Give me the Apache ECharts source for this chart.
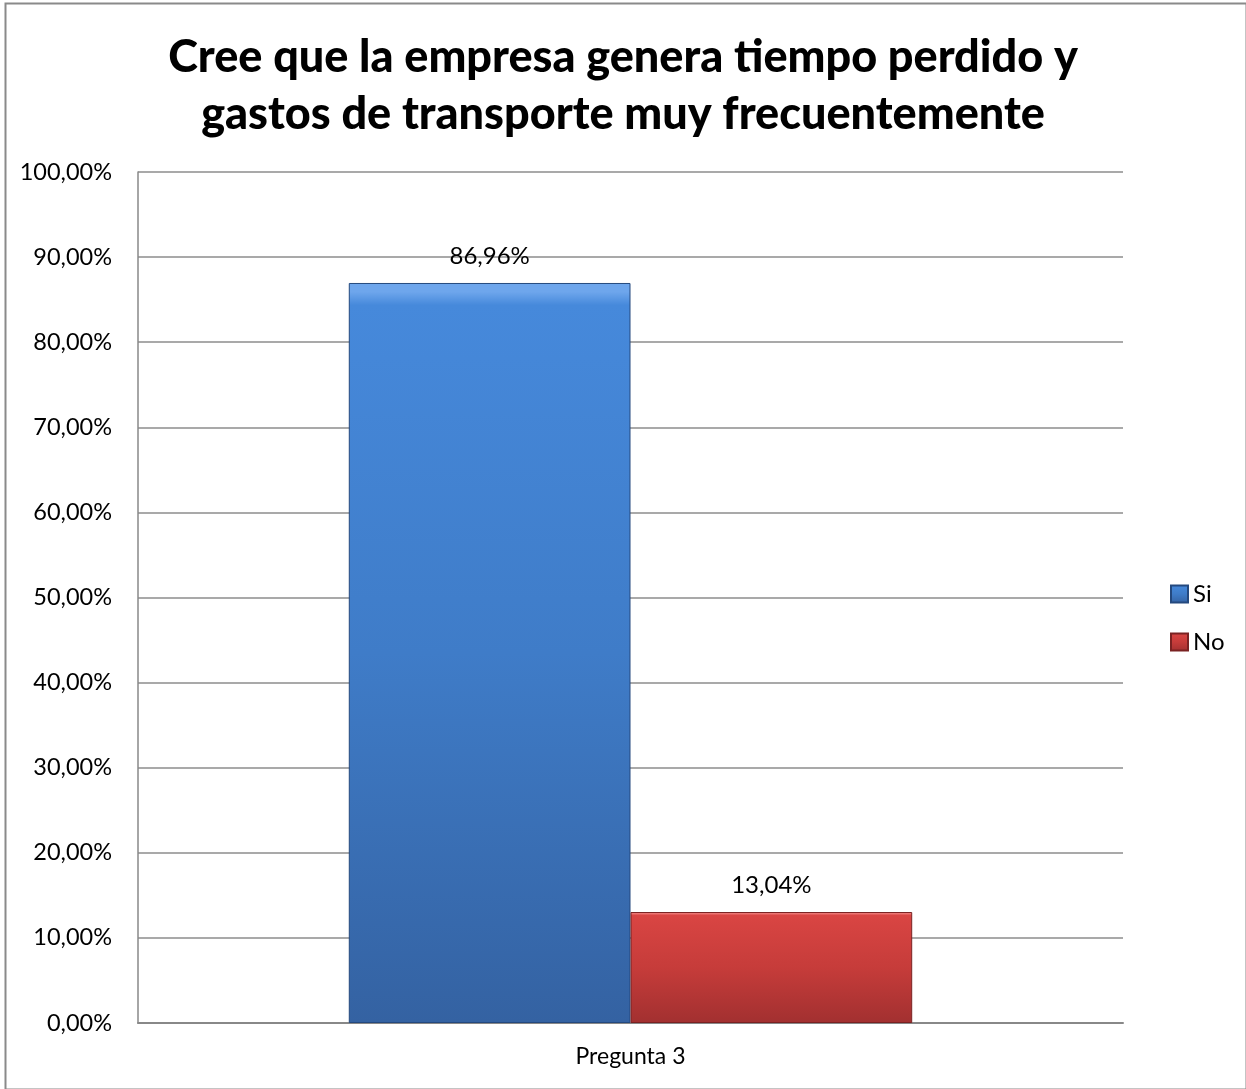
<!DOCTYPE html>
<html>
<head>
<meta charset="utf-8">
<script src="https://cdn.jsdelivr.net/npm/echarts@6/dist/echarts.min.js"></script>
<style>
  html, body { margin: 0; padding: 0; background: #fff; }
  #chart { width: 1246px; height: 1089px; }
</style>
</head>
<body>
<div id="chart"></div>
<script>
// Survey answers for question 3 (percent of respondents)
var categories = ['Pregunta 3'];
var seriesNames = ['Si', 'No'];
var siValues = [86.96];
var noValues = [13.04];
var yTicks = [0, 10, 20, 30, 40, 50, 60, 70, 80, 90, 100];

function pct(v) {
  return v.toFixed(2).replace('.', ',') + '%';
}

function barFill(top, mid, bottom, light) {
  return new echarts.graphic.LinearGradient(0, 0, 0, 1, [
    { offset: 0, color: light },
    { offset: 0.012, color: light },
    { offset: 0.03, color: top },
    { offset: 0.5, color: mid },
    { offset: 1, color: bottom }
  ]);
}

var blueFill = barFill('#4689db', '#3f7cc8', '#3462a2', '#6ea6ec');
var redFill = barFill('#d94543', '#c63c3a', '#a23030', '#ef7a78');

var chart = echarts.init(document.getElementById('chart'));
var fontFamily = 'Lato, "Open Sans", sans-serif';

chart.setOption({
  animation: false,
  backgroundColor: '#fff',
  textStyle: { fontFamily: fontFamily },
  title: {
    text: 'Cree que la empresa genera tiempo perdido y\ngastos de transporte muy frecuentemente',
    left: 'center',
    top: 24,
    textStyle: {
      fontFamily: fontFamily,
      fontSize: 45,
      fontWeight: 900,
      color: '#000',
      lineHeight: 57
    }
  },
  legend: {
    orient: 'vertical',
    left: 1165,
    top: 577,
    itemWidth: 17,
    itemHeight: 17,
    itemGap: 24,
    icon: 'rect',
    textStyle: { fontSize: 24, color: '#000', padding: [0, 0, 0, 0] },
    data: seriesNames
  },
  grid: { left: 138, right: 123, top: 172, bottom: 66, containLabel: false },
  xAxis: {
    type: 'category',
    data: categories,
    axisLine: { lineStyle: { color: '#888', width: 2 } },
    axisTick: { show: false },
    axisLabel: { fontSize: 23, color: '#000', margin: 22 }
  },
  yAxis: {
    type: 'value',
    min: yTicks[0],
    max: yTicks[yTicks.length - 1],
    interval: yTicks[1] - yTicks[0],
    axisLine: { show: true, lineStyle: { color: '#888', width: 1.5 } },
    axisTick: { show: false },
    splitLine: { lineStyle: { color: '#8c8c8c', width: 1.5 } },
    axisLabel: {
      fontSize: 23.5,
      color: '#000',
      margin: 26,
      formatter: function (v) { return pct(v); }
    }
  },
  series: [
    {
      name: seriesNames[0],
      type: 'bar',
      data: siValues,
      barGap: '0%',
      barCategoryGap: '42.8%',
      itemStyle: { color: blueFill, borderColor: '#24497e', borderWidth: 1 },
      label: {
        show: true,
        position: 'top',
        distance: 15,
        fontSize: 24,
        color: '#000',
        formatter: function (p) { return pct(p.value); }
      }
    },
    {
      name: seriesNames[1],
      type: 'bar',
      data: noValues,
      itemStyle: { color: redFill, borderColor: '#7a2222', borderWidth: 1 },
      label: {
        show: true,
        position: 'top',
        distance: 15,
        fontSize: 24,
        color: '#000',
        formatter: function (p) { return pct(p.value); }
      }
    }
  ],
  graphic: [
    {
      type: 'rect',
      left: 3,
      top: 1,
      shape: { width: 1241, height: 1086 },
      style: { fill: 'none', stroke: '#8a8a8a', lineWidth: 2 },
      silent: true
    }
  ]
});
</script>
</body>
</html>
